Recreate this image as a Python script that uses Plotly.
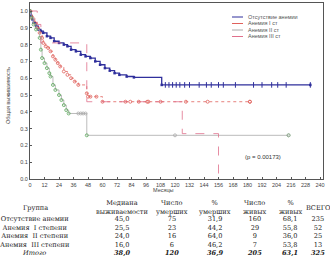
import plotly.graph_objects as go

# ---------------- data ----------------
# Kaplan-Meier steps (months, survival)
none_t = [0, 1, 2, 3, 5, 7, 9, 11, 14, 17, 20, 24, 28, 31, 34, 38, 42, 46, 50, 54, 58, 62, 66, 70, 74, 80, 86, 109, 232]
none_s = [1.0, 0.97, 0.95, 0.93, 0.91, 0.89, 0.88, 0.87, 0.85, 0.84, 0.82, 0.81, 0.80, 0.79, 0.77, 0.76, 0.74, 0.73, 0.72, 0.70, 0.68, 0.66, 0.645, 0.63, 0.62, 0.61, 0.605, 0.56, 0.56]
none_cens_t = [112, 115, 118, 121, 124, 128, 132, 140, 146, 150, 156, 160, 170, 185, 192, 200, 205, 212, 232]
none_cens_s = [0.56] * len(none_cens_t)

a1_t = [0, 2, 4, 6, 8, 10, 11, 13, 15, 17, 19, 21, 23, 25, 28, 31, 34, 37, 40, 47, 48, 60, 182]
a1_s = [1.0, 0.96, 0.93, 0.90, 0.87, 0.84, 0.81, 0.79, 0.78, 0.76, 0.73, 0.71, 0.69, 0.67, 0.64, 0.62, 0.60, 0.58, 0.56, 0.51, 0.49, 0.46, 0.46]
a1_cens_t = [50, 55, 79, 83, 90, 97, 98, 108, 129, 147, 182]
a1_cens_s = [0.49, 0.49, 0.46, 0.46, 0.46, 0.46, 0.46, 0.46, 0.46, 0.46, 0.46]

a2_t = [0, 1, 3, 5, 8, 9, 10, 12, 14, 16, 17, 19, 21, 24, 26, 28, 30, 32, 47, 214]
a2_s = [1.0, 0.96, 0.92, 0.89, 0.84, 0.77, 0.72, 0.69, 0.66, 0.63, 0.61, 0.56, 0.53, 0.50, 0.47, 0.44, 0.41, 0.39, 0.26, 0.26]
a2_cens_t = [40, 42, 44, 46, 120, 214]
a2_cens_s = [0.39, 0.39, 0.39, 0.39, 0.26, 0.26]

a3_t = [0, 6, 9, 47, 126, 156]
a3_s = [1.0, 0.92, 0.81, 0.46, 0.27, 0.0]

series_names = ["Отсутствие анемии", "Анемия I ст", "Анемия II ст", "Анемия III ст"]

x_ticks = list(range(0, 241, 12))
y_ticks = [round(0.1 * i, 1) for i in range(11)]

# table
tbl_groups = ["Отсутствие анемии", "Анемия  I степени", "Анемия  II степени", "Анемия  III степени"]
tbl_median = ["45,0", "25,5", "24,0", "16,0"]
tbl_died = ["75", "23", "16", "6"]
tbl_pdied = ["31,9", "44,2", "64,0", "46,2"]
tbl_alive = ["160", "29", "9", "7"]
tbl_palive = ["68,1", "55,8", "36,0", "53,8"]
tbl_total = ["235", "52", "25", "13"]
tot_row = ["Итого", "38,0", "120", "36,9", "205", "63,1", "325"]
tbl_headers = [["Группа"], ["Медиана", "выживаемости"], ["Число", "умерших"], ["%", "умерших"],
               ["Число", "живых"], ["%", "живых"], ["ВСЕГО"]]

# ---------------- figure ----------------
W, H = 330, 260
L, R, T, B = 30, 7, 3, 81
pw, ph = W - L - R, H - T - B

def pxx(x):
    return (x - L) / pw

def pxy(y):
    return (H - B - y) / ph

fig = go.Figure()

BLUE = "#2f2f9c"
RED = "#e0615c"
GREEN = "#5aa95a"
PINK = "#e0708c"
GREY = "#aaaaaa"
colors = [BLUE, RED, GREY, PINK]

fig.add_trace(go.Scatter(x=none_t, y=none_s, mode="lines+markers", line=dict(color=BLUE, width=1.3, shape="hv"),
                         marker=dict(symbol="square", size=2.5, color=BLUE), name=series_names[0], showlegend=False))
fig.add_trace(go.Scatter(x=a1_t, y=a1_s, mode="lines+markers", line=dict(color=RED, width=0.8, shape="hv", dash="dot"),
                         marker=dict(symbol="circle-open", size=3, color=RED, line=dict(width=0.8)), name=series_names[1], showlegend=False))
fig.add_trace(go.Scatter(x=a2_t, y=a2_s, mode="lines+markers", line=dict(color=GREY, width=0.8, shape="hv"),
                         marker=dict(symbol="circle-open", size=3, color=GREEN, line=dict(width=0.8)), name=series_names[2], showlegend=False))
fig.add_trace(go.Scatter(x=a3_t, y=a3_s, mode="lines", line=dict(color=PINK, width=0.8, shape="hv", dash="dash"),
                         name=series_names[3], showlegend=False))

fig.add_trace(go.Scatter(x=none_cens_t, y=none_cens_s, mode="markers", marker=dict(symbol="line-ns-open", size=4, color=BLUE, line=dict(width=1, color=BLUE)), showlegend=False))
fig.add_trace(go.Scatter(x=a1_cens_t, y=a1_cens_s, mode="markers", marker=dict(symbol="circle-open", size=3, color=RED, line=dict(width=0.8)), showlegend=False))
fig.add_trace(go.Scatter(x=a2_cens_t, y=a2_cens_s, mode="markers", marker=dict(symbol="circle-open", size=3, color=GREY, line=dict(width=0.8)), showlegend=False))

tickfont = dict(size=5.5, color="#444", family="Liberation Sans")
fig.update_xaxes(range=[0, 240 * pw / 290], tickvals=x_ticks, ticktext=[str(v) for v in x_ticks],
                 showgrid=False, zeroline=False, showline=True, linecolor="#555", linewidth=1, mirror=True,
                 ticks="inside", ticklen=2, tickcolor="#555", tickfont=tickfont, automargin=False)
fig.update_yaxes(range=[0, ph / 168], tickvals=y_ticks, ticktext=[f"{v:.1f}" for v in y_ticks],
                 showgrid=False, zeroline=False, showline=True, linecolor="#555", linewidth=1, mirror=True,
                 ticks="inside", ticklen=2, tickcolor="#555", tickfont=tickfont, automargin=False)

anns = []
anns.append(dict(x=263, y=157, text="(p = 0.00173)", size=6, family="Liberation Sans", color="#333"))
anns.append(dict(x=163, y=190, text="Месяцы", size=5.5, family="Liberation Sans", color="#444"))

# table: one text block per column (header block + body block)
col_x = [35, 122, 172, 215, 254, 290, 318]
TS = 6.6
TF = "DejaVu Serif"
cols = [tbl_groups, tbl_median, tbl_died, tbl_pdied, tbl_alive, tbl_palive, tbl_total]
for c in range(len(cols)):
    h = tbl_headers[c]
    anns.append(dict(x=col_x[c], y=207.5, text="<br>".join(h), size=TS, family=TF, color="#222"))
    tot = "<i>" + tot_row[c] + "</i>" if c == 0 else "<b><i>" + tot_row[c] + "</i></b>"
    body = "<br>".join(cols[c] + [tot])
    anns.append(dict(x=col_x[c], y=235.7, text=body, size=TS, family=TF, color="#222"))

layout_anns = []
for a in anns:
    layout_anns.append(dict(x=pxx(a["x"]), y=pxy(a["y"]), xref="paper", yref="paper", text=a["text"],
                            showarrow=False, xanchor="center", yanchor="middle", align="center",
                            font=dict(size=a["size"], family=a["family"], color=a["color"])))
# y axis title
layout_anns.append(dict(x=pxx(8), y=pxy(95), xref="paper", yref="paper", text="Общая выживаемость",
                        textangle=-90, showarrow=False, xanchor="center", yanchor="middle",
                        font=dict(size=5.5, family="Liberation Sans", color="#444")))

# manual compact legend
shapes = []
leg_y = [17, 23.5, 30, 36.5]
for i, name in enumerate(series_names):
    shapes.append(dict(type="line", xref="paper", yref="paper", x0=pxx(232), x1=pxx(243),
                       y0=pxy(leg_y[i]), y1=pxy(leg_y[i]), line=dict(color=colors[i], width=1)))
    layout_anns.append(dict(x=pxx(246), y=pxy(leg_y[i]), xref="paper", yref="paper", text=name,
                            showarrow=False, xanchor="left", yanchor="middle",
                            font=dict(size=5.5, family="Liberation Sans", color="#555")))

fig.update_layout(width=W, height=H, margin=dict(l=L, r=R, t=T, b=B),
                  paper_bgcolor="white", plot_bgcolor="white",
                  annotations=layout_anns, shapes=shapes, showlegend=False,
                  font=dict(family="Liberation Sans"))

fig.write_html("out.html", config={"displayModeBar": False},
               post_script="document.body.style.margin='0';document.body.style.padding='0';")
